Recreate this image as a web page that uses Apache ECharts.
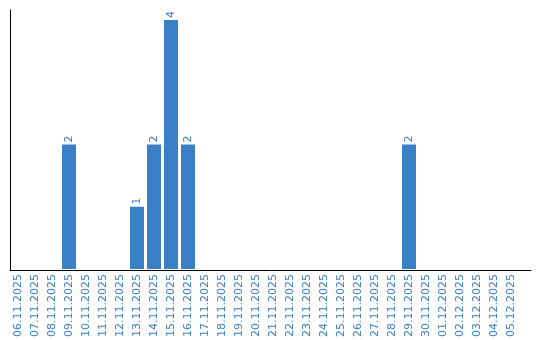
<!DOCTYPE html>
<html><head><meta charset="utf-8">
<script src="https://cdn.jsdelivr.net/npm/echarts@6/dist/echarts.min.js"></script>
<style>html,body{margin:0;padding:0;background:#fff}#c{width:540px;height:340px}</style>
</head><body><div id="c"></div>
<script>
const categories = ["06.11.2025","07.11.2025","08.11.2025","09.11.2025","10.11.2025","11.11.2025","12.11.2025","13.11.2025","14.11.2025","15.11.2025","16.11.2025","17.11.2025","18.11.2025","19.11.2025","20.11.2025","21.11.2025","22.11.2025","23.11.2025","24.11.2025","25.11.2025","26.11.2025","27.11.2025","28.11.2025","29.11.2025","30.11.2025","01.12.2025","02.12.2025","03.12.2025","04.12.2025","05.12.2025"];
const values = [0,0,0,2,0,0,0,1,2,4,2,0,0,0,0,0,0,0,0,0,0,0,0,2,0,0,0,0,0,0];

const blue = '#3b7fc4';
const chart = echarts.init(document.getElementById('c'));
chart.setOption({
  animation: false,
  grid: [
    {left: 9.5, width: 510, top: 10, bottom: 70},
    {left: 10, right: 9, top: 10, bottom: 70}
  ],
  xAxis: [
    {type: 'category', gridIndex: 0, data: categories,
     axisLine: {show: false}, axisTick: {show: false},
     axisLabel: {interval: 0, rotate: 90, color: blue, fontFamily: 'DejaVu Sans', fontSize: 11, margin: 5}},
    {type: 'category', gridIndex: 1, data: [''],
     axisLine: {show: true, lineStyle: {color: '#000', width: 1}}, axisTick: {show: false}, axisLabel: {show: false}}
  ],
  yAxis: [
    {type: 'value', gridIndex: 0, min: 0, max: 4.16, splitLine: {show: false},
     axisLine: {show: false}, axisTick: {show: false}, axisLabel: {show: false}},
    {type: 'value', gridIndex: 1, min: 0, max: 1, splitLine: {show: false},
     axisLine: {show: true, lineStyle: {color: '#000', width: 1}}, axisTick: {show: false}, axisLabel: {show: false}}
  ],
  series: [{
    type: 'bar', xAxisIndex: 0, yAxisIndex: 0,
    data: values.map(v => v === 0 ? null : v),
    barWidth: 14,
    itemStyle: {color: blue},
    label: {show: true, position: 'top', rotate: 90, distance: 2, align: 'left', verticalAlign: 'middle',
            color: blue, fontFamily: 'DejaVu Sans', fontSize: 11}
  }]
});
</script></body></html>
